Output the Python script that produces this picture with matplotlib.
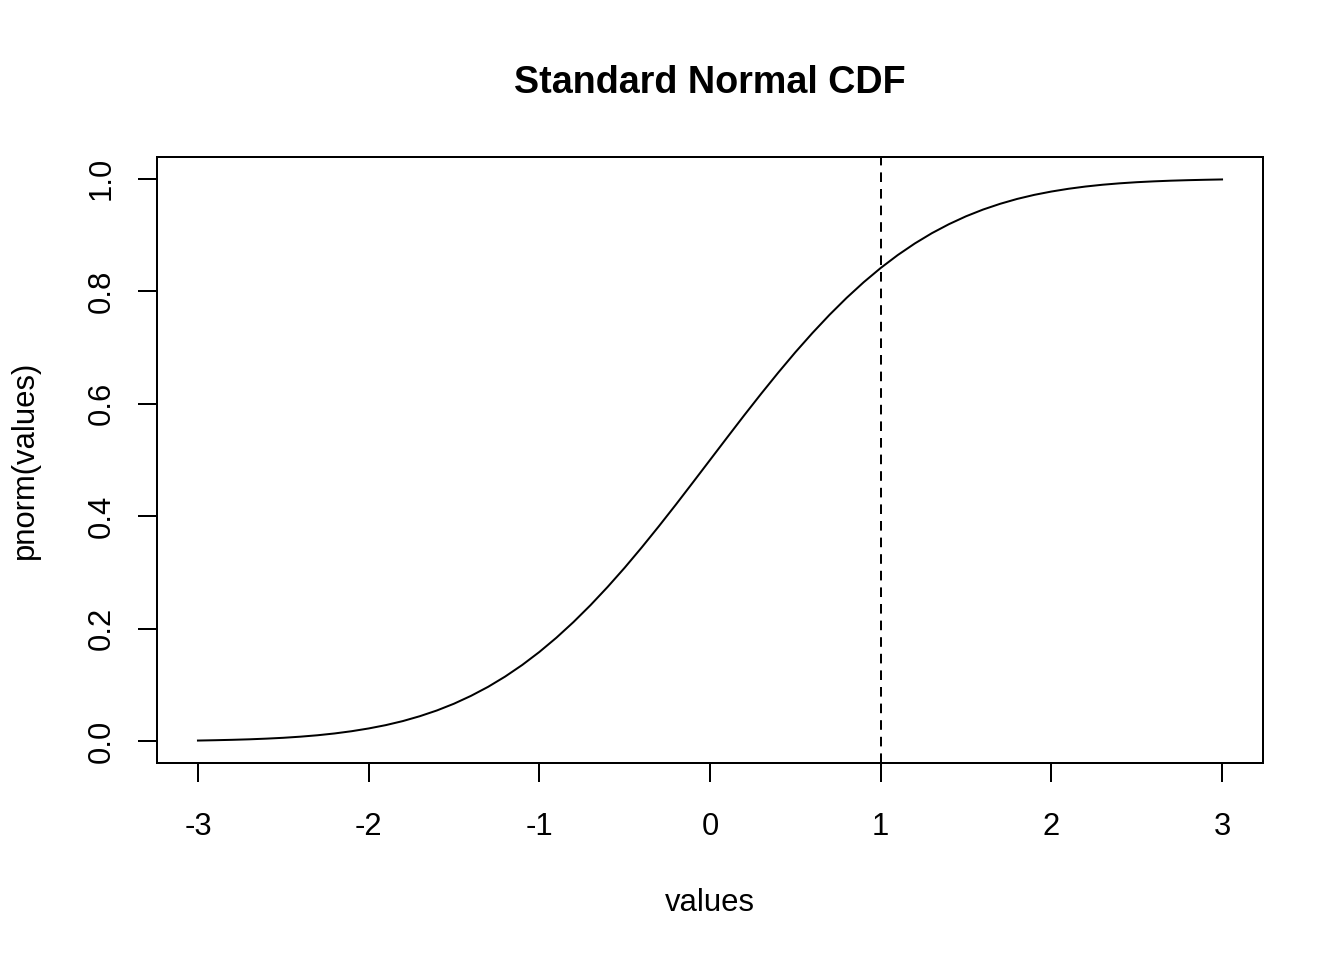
import matplotlib
matplotlib.use("Agg")
import matplotlib.pyplot as plt

# values
values = [-3.0, -2.9, -2.8, -2.7, -2.6, -2.5, -2.4, -2.3, -2.2, -2.1,
          -2.0, -1.9, -1.8, -1.7, -1.6, -1.5, -1.4, -1.3, -1.2, -1.1,
          -1.0, -0.9, -0.8, -0.7, -0.6, -0.5, -0.4, -0.3, -0.2, -0.1,
          0.0, 0.1, 0.2, 0.3, 0.4, 0.5, 0.6, 0.7, 0.8, 0.9,
          1.0, 1.1, 1.2, 1.3, 1.4, 1.5, 1.6, 1.7, 1.8, 1.9,
          2.0, 2.1, 2.2, 2.3, 2.4, 2.5, 2.6, 2.7, 2.8, 2.9, 3.0]
pnorm_values = [0.0013, 0.0019, 0.0026, 0.0035, 0.0047, 0.0062, 0.0082, 0.0107, 0.0139, 0.0179,
                0.0228, 0.0287, 0.0359, 0.0446, 0.0548, 0.0668, 0.0808, 0.0968, 0.1151, 0.1357,
                0.1587, 0.1841, 0.2119, 0.2420, 0.2743, 0.3085, 0.3446, 0.3821, 0.4207, 0.4602,
                0.5000, 0.5398, 0.5793, 0.6179, 0.6554, 0.6915, 0.7257, 0.7580, 0.7881, 0.8159,
                0.8413, 0.8643, 0.8849, 0.9032, 0.9192, 0.9332, 0.9452, 0.9554, 0.9641, 0.9713,
                0.9772, 0.9821, 0.9861, 0.9893, 0.9918, 0.9938, 0.9953, 0.9965, 0.9974, 0.9981, 0.9987]
cut_x = 1
x_ticks = [-3, -2, -1, 0, 1, 2, 3]
y_ticks = [0.0, 0.2, 0.4, 0.6, 0.8, 1.0]

plt.rcParams['font.family'] = ['Liberation Sans', 'DejaVu Sans']
W, H = 1344, 960
fs = 22.3
px = 72 / 100

fig = plt.figure(figsize=(W / 100, H / 100), dpi=100)
ax = fig.add_axes([157 / W, 1 - 763 / H, (1263 - 157) / W, (763 - 157) / H])

ax.plot(values, pnorm_values, color='black', lw=2 * px)
ax.axvline(cut_x, color='black', lw=2 * px, linestyle=(0, (4.8, 3.5)))

ax.set_xlim(-3.24, 3.24)
ymin, ymax = min(pnorm_values), max(pnorm_values)
r = ymax - ymin
ax.set_ylim(ymin - 0.04 * r, ymax + 0.04 * r)

ax.set_xticks(x_ticks)
ax.set_xticklabels([str(t) for t in x_ticks])
ax.set_yticks(y_ticks)
ax.set_yticklabels(['%.1f' % t for t in y_ticks], rotation=90, va='center')
ax.tick_params(axis='both', direction='out', length=19 * px, width=2 * px,
               labelsize=fs, color='black')
ax.tick_params(axis='x', pad=30 * px)
ax.tick_params(axis='y', pad=21 * px)
for s in ax.spines.values():
    s.set_linewidth(2 * px)

fig.text(710 / W, 1 - 93 / H, 'Standard Normal CDF', ha='center', va='baseline',
         fontsize=27.2, fontweight='bold')
fig.text(710 / W, 1 - 911 / H, 'values', ha='center', va='baseline', fontsize=fs)
fig.text(33 / W, 1 - 460 / H, 'pnorm(values)', ha='center', va='baseline',
         rotation=90, rotation_mode='anchor', fontsize=fs)

fig.savefig('out.png', dpi=100)
